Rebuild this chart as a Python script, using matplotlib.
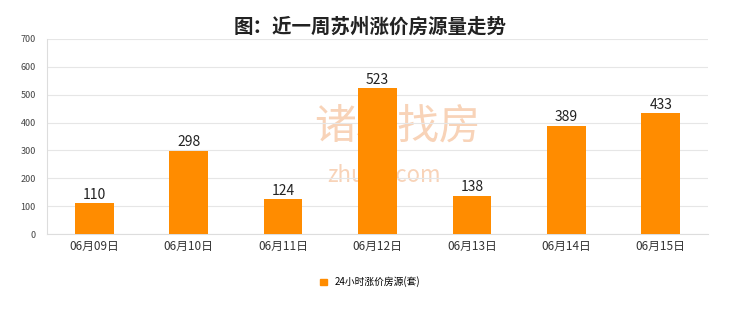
import matplotlib
matplotlib.use("Agg")
import matplotlib.pyplot as plt
from matplotlib.patches import Patch

plt.rcParams['font.family'] = ['Noto Sans CJK SC', 'DejaVu Sans']

categories = ["06月09日", "06月10日", "06月11日", "06月12日", "06月13日", "06月14日", "06月15日"]
values = [110, 298, 124, 523, 138, 389, 433]
series_name = "24小时涨价房源(套)"
title = "图：近一周苏州涨价房源量走势"
color = "#FF8C00"

fig = plt.figure(figsize=(7.4, 3.12), dpi=100)
ax = fig.add_axes([47/740, 1 - 234/312, (708-47)/740, (234-39)/312])

x = list(range(len(categories)))
bars = ax.bar(x, values, width=0.41, color=color, zorder=3)
for xi, v in zip(x, values):
    ax.text(xi, v + 6, str(v), ha='center', va='bottom', fontsize=10, color='#222222', zorder=4)

ax.set_xlim(-0.5, len(categories) - 0.5)
ax.set_ylim(0, 700)
ax.set_yticks(range(0, 701, 100))
ax.set_xticks(x)
ax.set_xticklabels(categories, fontsize=8.5, color='#333333')
ax.tick_params(axis='y', labelsize=6.5, labelcolor='#444444', length=0, pad=8)
ax.tick_params(axis='x', length=0, pad=4)
ax.yaxis.grid(True, color='#E6E6E6', linewidth=0.8, zorder=0)
for s in ['top', 'right']:
    ax.spines[s].set_visible(False)
ax.spines['left'].set_color('#DDDDDD')
ax.spines['bottom'].set_color('#DDDDDD')

# watermark (behind bars)
ax.text(0.53, 0.55, "诸葛找房", transform=ax.transAxes, fontsize=30, color='#F8D3B8',
        ha='center', va='center', zorder=1)
ax.text(0.51, 0.30, "zhuge.com", transform=ax.transAxes, fontsize=16, color='#F8D3B8',
        ha='center', va='center', zorder=1)

fig.suptitle(title, y=0.945, fontsize=14, fontweight='bold', color='#222222')

handle = Patch(facecolor=color, edgecolor=color)
fig.legend([handle], [series_name], loc='center', bbox_to_anchor=(0.5, 1 - 282/312), frameon=False,
           fontsize=7, handlelength=0.7, handleheight=0.7, handletextpad=0.8)

fig.savefig("out.png", dpi=100, facecolor='white')
